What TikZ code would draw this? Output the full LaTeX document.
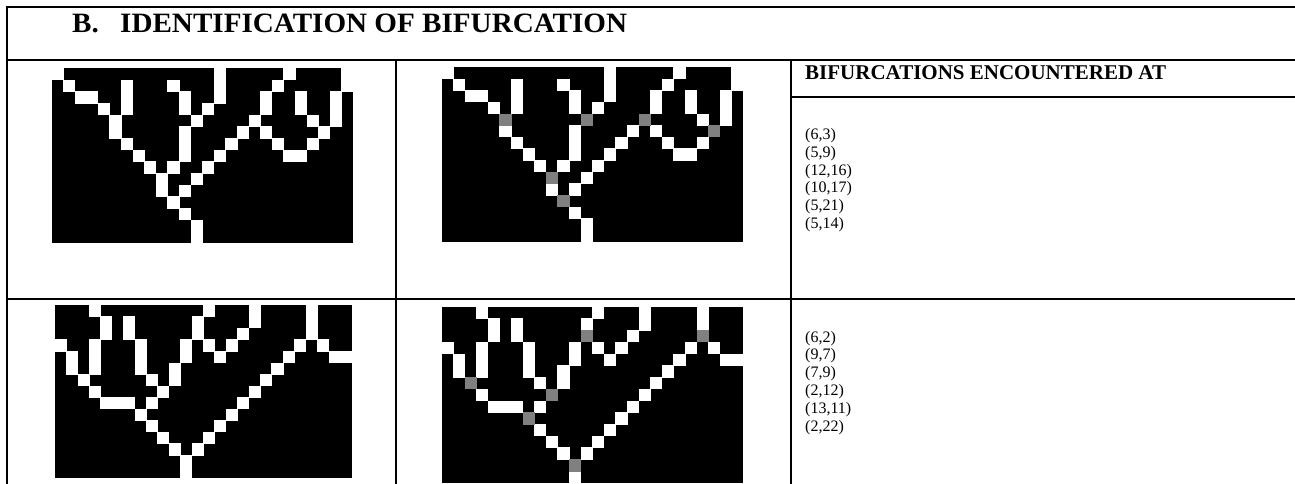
\documentclass[tikz,border=0pt]{standalone}
\usepackage{fontspec}
\setmainfont{Liberation Serif}
\definecolor{pixgray}{RGB}{128,128,128}
\newcommand\pixblack[4]{\fill[black] (#1,#2) rectangle ++({26*#3},{15*#4});}
\newcommand\pixcells[6]{%
  \foreach \cc/\rr in #6 {\fill[#5] ({#1+\cc*#3-0.3},{#2+\rr*#4-0.3}) rectangle ++({#3+0.6},{#4+0.6});}}
\tikzset{
  rule/.style={line width=2pt, black, line cap=rect},
  titletext/.style={anchor=base west, inner sep=0pt, font=\fontsize{28}{32}\selectfont\bfseries},
  headtext/.style={anchor=base west, inner sep=0pt, font=\fontsize{21}{25}\selectfont\bfseries},
  coordtext/.style={anchor=base west, inner sep=0pt, font=\fontsize{16}{18}\selectfont},
}
\def\whitesA{0/0,14/0,20/0,25/0,
1/1,6/1,10/1,14/1,19/1,25/1,
2/2,3/2,6/2,11/2,14/2,18/2,21/2,24/2,
4/3,6/3,11/3,13/3,18/3,21/3,24/3,
5/4,12/4,17/4,22/4,24/4,
5/5,11/5,16/5,18/5,23/5,
6/6,11/6,15/6,19/6,22/6,
7/7,11/7,14/7,20/7,21/7,
8/8,10/8,13/8,
9/9,12/9,
9/10,11/10,
10/11,
11/12,
12/13,
12/14}
\def\whitesB{3/0,13/0,17/0,22/0,
4/1,6/1,12/1,17/1,22/1,
4/2,6/2,12/2,16/2,22/2,
0/3,3/3,7/3,11/3,13/3,15/3,21/3,23/3,
1/4,3/4,7/4,11/4,14/4,20/4,24/4,25/4,
1/5,3/5,7/5,10/5,19/5,
2/6,8/6,10/6,18/6,
3/7,9/7,17/7,
4/8,5/8,6/8,8/8,16/8,
7/9,15/9,
8/10,14/10,
9/11,13/11,
10/12,12/12,
11/13,
11/14}
\def\graysA{5/4,12/4,17/4,23/5,9/9,10/11}
\def\graysB{2/6,9/7,7/9,12/2,22/2,11/13}
\begin{document}
\begin{tikzpicture}[x=1pt,y=-1pt]
\useasboundingbox (0,0) rectangle (1295,484);
% table rules
\draw[rule] (1295,7) -- (7,7) -- (7,484);
\draw[rule] (7,60) -- (1295,60);
\draw[rule] (791,97) -- (1295,97);
\draw[rule] (7,299) -- (1295,299);
\draw[rule] (396,60) -- (396,484);
\draw[rule] (791,60) -- (791,484);
% title and header
\node[titletext] (title) at (72,33) {\scalebox{1.04}[1]{B.\hspace{20.5pt}IDENTIFICATION OF BIFURCATION}};
\node[headtext] (head) at (805,80) {BIFURCATIONS ENCOUNTERED AT};
% coordinate lists
\foreach \txt [count=\i from 0] in {{(6,3)},{(5,9)},{(12,16)},{(10,17)},{(5,21)},{(5,14)}}
  \node[coordtext] (ca\i) at (805,{139.5+17.8*\i}) {\txt};
\foreach \txt [count=\i from 0] in {{(6,2)},{(9,7)},{(7,9)},{(2,12)},{(13,11)},{(2,22)}}
  \node[coordtext] (cb\i) at (805,{342+17.8*\i}) {\txt};
% pixel images, row 1
\pixblack{51.7}{68.3}{11.6}{11.67}
\pixcells{51.7}{68.3}{11.6}{11.67}{white}{\whitesA}
\pixblack{441.7}{67.3}{11.6}{11.63}
\pixcells{441.7}{67.3}{11.6}{11.63}{white}{\whitesA}
\pixcells{441.7}{67.3}{11.6}{11.63}{pixgray}{\graysA}
% pixel images, row 2
\pixblack{55}{305}{11.41}{11.56}
\pixcells{55}{305}{11.41}{11.56}{white}{\whitesB}
\pixblack{441.7}{307}{11.6}{11.73}
\pixcells{441.7}{307}{11.6}{11.73}{white}{\whitesB}
\pixcells{441.7}{307}{11.6}{11.73}{pixgray}{\graysB}
\end{tikzpicture}
\end{document}
